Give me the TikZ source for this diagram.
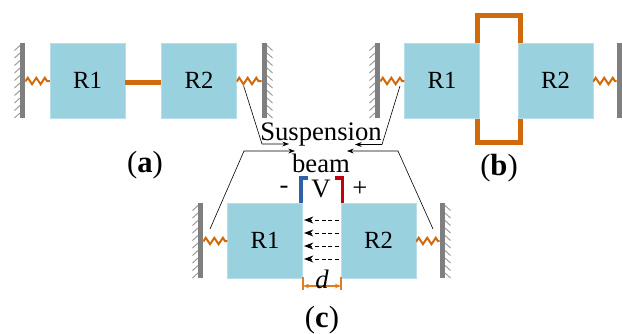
\documentclass[tikz,border=0pt]{standalone}
\usepackage{fontspec}
\setmainfont{Liberation Serif}
\usetikzlibrary{decorations.pathmorphing,arrows.meta}
\definecolor{res}{HTML}{99D1DF}
\definecolor{beamc}{HTML}{D06A0A}
\definecolor{wallc}{HTML}{7F7F7F}
\definecolor{hatchc}{HTML}{999999}
\definecolor{bluec}{HTML}{2E62A8}
\definecolor{redc}{HTML}{C00010}
\definecolor{dimc}{HTML}{E07B20}
\tikzset{
  px/.style={x=0.75pt,y=-0.75pt},
  resonator/.style={draw=res!70!white,line width=0.3pt,fill=res,minimum width=56.2pt,minimum height=56.2pt,inner sep=0pt,font=\fontsize{18.5}{18}\selectfont},
  wallbar/.style={fill=wallc,draw=none,minimum width=3.75pt,minimum height=56.2pt,inner sep=0pt},
  hatch/.style={draw=hatchc,line width=0.7pt},
  springline/.style={draw=beamc,line width=1.5pt,decorate,decoration={zigzag,segment length=6.4pt,amplitude=2.4pt,pre length=0.3pt,post length=0.3pt}},
  beamline/.style={draw=beamc,line width=3.75pt},
  leader/.style={draw=black,line width=0.45pt,-{Stealth[length=5pt,width=3.6pt]}},
  fieldline/.style={draw=black,line width=0.75pt,densely dashed,-{Stealth[length=7pt,width=5.2pt]}},
  dimline/.style={draw=dimc,line width=0.8pt},
  lab/.style={inner sep=0pt,font=\fontsize{20}{22}\selectfont},
  caption/.style={inner sep=0pt,font=\fontsize{23}{25}\selectfont},
}
\newcommand{\hatchleft}[2]{\foreach \k in {0,...,9}{\draw[hatch] (#1,#2+2.5+7.5*\k) -- ++(-5.5,5);}}
\newcommand{\hatchright}[2]{\foreach \k in {0,...,9}{\draw[hatch] (#1,#2+2.5+7.5*\k) -- ++(5.5,5);}}
\begin{document}
\begin{tikzpicture}[px]
\useasboundingbox[fill=white] (0,0) rectangle (622,333);
% (a)
\node[wallbar] (aw1) at (22.5,80.5) {};
\node[wallbar] (aw2) at (264.5,80.5) {};
\hatchleft{20}{43}
\hatchright{267}{43}
\node[resonator] (aR1) at (87.5,80.5) {R1};
\node[resonator] (aR2) at (199,80.5) {R2};
\draw[beamline] (aR1.east |- 0,82) -- (aR2.west |- 0,82);
\draw[springline] (aw1.east |- 0,81) -- (aR1.west |- 0,81);
\draw[springline] (aR2.east |- 0,81) -- (aw2.west |- 0,81);
\node[caption] (capa) at (145,165) {(\textbf{a})};
% (b)
\draw[beamline,line cap=butt] (477.5,45) -- (477.5,15.5) -- (520.5,15.5) -- (520.5,45);
\draw[beamline,line cap=butt] (477.5,116) -- (477.5,142.5) -- (520.5,142.5) -- (520.5,116);
\node[wallbar] (bw1) at (377.5,80.5) {};
\node[wallbar] (bw2) at (619.5,80.5) {};
\hatchleft{375}{43}
\node[resonator] (bR1) at (442,80.5) {R1};
\node[resonator] (bR2) at (555.5,80.5) {R2};
\draw[springline] (bw1.east |- 0,81) -- (bR1.west |- 0,81);
\draw[springline] (bR2.east |- 0,81) -- (bw2.west |- 0,81);
\node[caption] (capb) at (499,168) {(\textbf{b})};
% (c)
\node[wallbar] (cw1) at (200.5,240.5) {};
\node[wallbar] (cw2) at (442.5,240.5) {};
\hatchleft{198}{203}
\hatchright{445}{203}
\node[resonator] (cR1) at (265,240.5) {R1};
\node[resonator] (cR2) at (378.5,240.5) {R2};
\draw[springline] (cw1.east |- 0,241) -- (cR1.west |- 0,241);
\draw[springline] (cR2.east |- 0,241) -- (cw2.west |- 0,241);
\draw[bluec,line width=2.8pt] (cR1.north east -| 300.7,0) -- (300.7,178) -- (308,178);
\draw[redc,line width=2.8pt] (cR2.north west -| 342.5,0) -- (342.5,178) -- (335,178);
\node[lab] (minus) at (284,190) {-};
\node[lab] (volt) at (321,189) {V};
\node[lab] (plus) at (360,189) {+};
\foreach \y in {220,233,246,259}{
  \draw[fieldline] (339,\y) -- (304,\y);
}
\coordinate (dl) at (303,286);
\coordinate (dr) at (341,286);
\draw[dimline] (303,277) -- (303,290);
\draw[dimline] (341,277) -- (341,290);
\draw[dimline,{Stealth[length=4.5pt,width=3.4pt]}-{Stealth[length=4.5pt,width=3.4pt]}] (dl) -- (dr);
\node[lab] (dlab) at (322,279) {\textit{d}};
\node[caption] (capc) at (322,320) {(\textbf{c})};
% label
\node[lab] (susp) at (321,135) {Suspension};
\node[lab] (beam) at (321,163) {beam};
% leaders
\coordinate (la) at (243.7,86);
\coordinate (lb) at (400,86);
\coordinate (lc) at (210,229);
\coordinate (ld) at (433,229);
\coordinate (ta) at (289,144);
\coordinate (tb) at (355,144.5);
\coordinate (tc) at (295,151);
\coordinate (td) at (347,151);
\draw[leader] (la) -- (262,144) -- (ta);
\draw[leader] (lb) -- (382,144.5) -- (tb);
\draw[leader] (lc) -- (244,151) -- (tc);
\draw[leader] (ld) -- (398,151) -- (td);
\end{tikzpicture}
\end{document}
